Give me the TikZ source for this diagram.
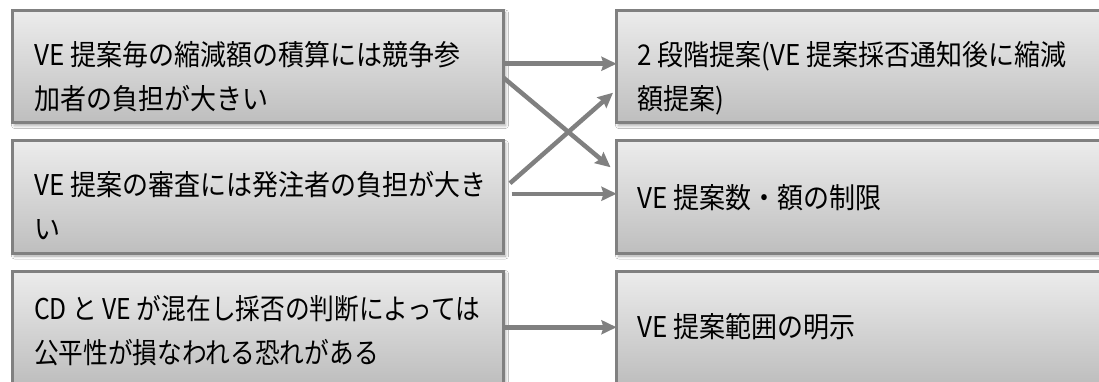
\documentclass[tikz,border=0pt]{standalone}
\usepackage{fontspec}
\newfontfamily\jp{Noto Sans CJK JP}
\usetikzlibrary{arrows.meta,shadows.blur}
\definecolor{bordergray}{RGB}{128,128,128}
\definecolor{arrowgray}{RGB}{128,128,128}
\definecolor{topgray}{RGB}{236,236,236}
\definecolor{botgray}{RGB}{190,190,190}
\tikzset{
  box/.style={rectangle, draw=bordergray, line width=3pt, top color=topgray, bottom color=botgray,
    minimum width=491pt, minimum height=112.5pt, anchor=north west, inner sep=0pt, outer sep=0pt,
    blur shadow={shadow xshift=2pt, shadow yshift=-2.5pt, shadow blur radius=3pt, shadow opacity=35}},
  rbox/.style={box, minimum width=520pt},
  txt/.style={font=\jp\fontsize{26}{40}\selectfont, align=left, anchor=base west, inner sep=0pt,
    yscale=1.1, transform shape},
  conn/.style={draw=arrowgray, line width=4.5pt, -{Stealth[length=15pt,width=14pt,inset=2pt]}}
}
\begin{document}
\begin{tikzpicture}[x=1pt,y=-1pt]
\useasboundingbox (0,0) rectangle (1099,382);
\clip (0,0) rectangle (1099,382);
\fill[white] (0,0) rectangle (1099,382);
% boxes
\node[box] (L1) at (12.5,10.5) {};
\node[box] (L2) at (12.5,141) {};
\node[box] (L3) at (12.5,271) {};
\node[rbox] (R1) at (616.5,10.5) {};
\node[rbox] (R2) at (616.5,141) {};
\node[rbox] (R3) at (616.5,271) {};
% texts (base anchor = baseline of last line)
\node[txt] (t1) at (34,110) {VE 提案毎の縮減額の積算には競争参\\加者の負担が大きい};
\node[txt] (t2) at (34,239) {VE 提案の審査には発注者の負担が大き\\い};
\node[txt, xscale=0.95] (t3) at (34,363) {CD と VE が混在し採否の判断によっては\\公平性が損なわれる恐れがある};
\node[txt] (t4) at (637,110) {2 段階提案(VE 提案採否通知後に縮減\\額提案)};
\node[txt] (t5) at (637,208) {VE 提案数・額の制限};
\node[txt] (t6) at (637,337) {VE 提案範囲の明示};
% connectors
\draw[conn] ([yshift=3pt]L1.east) -- ([yshift=3pt]R1.west);
\draw[conn] ([yshift=-11pt]L1.east) -- ([xshift=-6pt,yshift=30pt]R2.west);
\draw[conn] ([xshift=6.5pt,yshift=14pt]L2.east) -- ([xshift=-3.5pt,yshift=-26pt]R1.west);
\draw[conn] ([xshift=8pt,yshift=3.5pt]L2.east) -- ([yshift=3.5pt]R2.west);
\draw[conn] (L3.east) -- (R3.west);
\end{tikzpicture}
\end{document}
